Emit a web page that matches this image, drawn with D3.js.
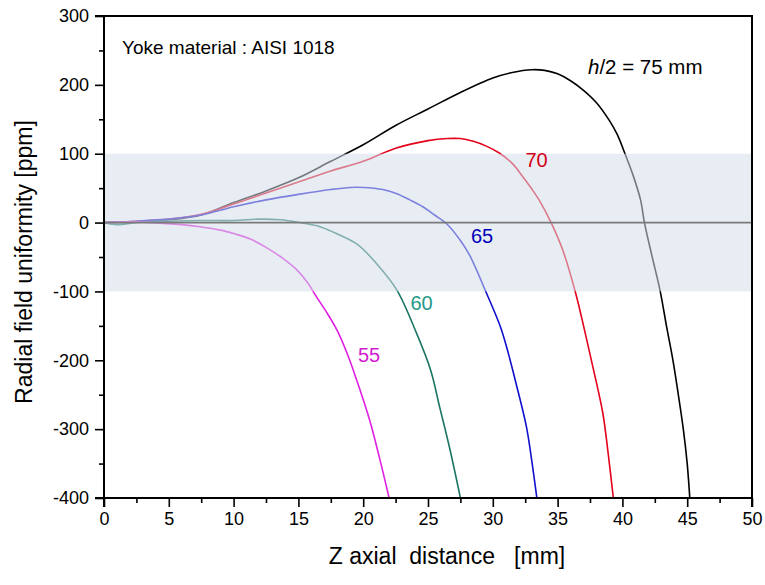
<!DOCTYPE html>
<html>
<head>
<meta charset="utf-8">
<script src="https://cdn.jsdelivr.net/npm/d3@7"></script>
<style>
  html, body { margin: 0; padding: 0; background: #fff; }
  svg { display: block; font-family: "Liberation Sans", Arial, sans-serif; }
</style>
</head>
<body>
<svg id="chart" width="765" height="585"></svg>
<script>
// ---- data ----
const z75 = [0, 2.5, 5, 7.5, 10, 12.5, 15, 17.5, 20, 22.5, 25, 27.5, 30, 31.5, 33, 34, 35, 36, 37, 38, 39, 39.6, 40.2, 40.8, 41.4, 41.7, 42.3, 42.9, 43.4, 43.9, 44.3, 44.7, 45.0, 45.2];
const v75 = [0, 1, 4, 11, 29, 46, 65, 89, 113, 141, 165, 189, 210, 218, 222, 221, 216, 206, 192, 174, 148, 128, 100, 70, 33, 0, -50, -98, -150, -200, -248, -300, -350, -400];

const z70 = [0, 2.5, 5, 7.5, 10, 12.5, 15, 17.5, 20, 22.5, 25, 26.5, 27.5, 28.5, 29.5, 30.5, 31.5, 32.3, 33, 33.6, 34.5, 35.4, 36.4, 37.1, 37.8, 38.5, 38.9, 39.3];
const v70 = [0, 2, 5, 12, 27, 43, 59, 75, 89, 108, 119, 122, 122, 118, 111, 101, 86, 67, 49, 32, 0, -40, -103, -158, -216, -278, -335, -400];

const z65 = [0, 2.5, 5, 7.5, 10, 12.5, 15, 17.5, 19, 20, 21.5, 22.6, 23.6, 24.6, 25.5, 26.4, 27.5, 28.2, 29.5, 30.6, 31.2, 31.8, 32.6, 33.0, 33.4];
const v65 = [0, 2, 5, 11, 23, 33, 41, 48, 51, 51, 48, 42, 33, 23, 11, -1, -26, -47, -102, -152, -190, -234, -297, -345, -400];

const z60 = [0, 1, 2.5, 5, 7.5, 10, 12, 13.6, 15.1, 16.5, 17.7, 19.5, 21, 22.6, 24.1, 25.2, 25.9, 26.7, 27.5];
const v60 = [0, -3, 0, 2, 3, 3, 5, 4, 0, -5, -14, -31, -59, -98, -160, -214, -268, -330, -400];

const z55 = [0, 2.5, 4.3, 6, 7.4, 9, 10, 11.3, 12.5, 13.8, 14.9, 15.7, 16.4, 17.2, 18, 18.8, 19.5, 20.5, 21.3, 22];
const v55 = [0, 1, -1, -3, -6, -11, -16, -24, -36, -52, -69, -87, -108, -131, -157, -192, -229, -287, -345, -400];

const seriesNames = ["75", "70", "65", "60", "55"];
const xTicks = [0, 5, 10, 15, 20, 25, 30, 35, 40, 45, 50];
const yTicks = [-400, -300, -200, -100, 0, 100, 200, 300];
const bandRange = [-100, 100];

// ---- layout ----
const svg = d3.select("#chart");
const L = 104, R = 752, T = 16, B = 498;
const x = d3.scaleLinear().domain([0, 50]).range([L, R]);
const y = d3.scaleLinear().domain([-400, 300]).range([B, T]);

const series = [
  { name: seriesNames[0], z: z75, v: v75, color: "#000000" },
  { name: seriesNames[1], z: z70, v: v70, color: "#e3001b" },
  { name: seriesNames[2], z: z65, v: v65, color: "#1010cc" },
  { name: seriesNames[3], z: z60, v: v60, color: "#1b7565" },
  { name: seriesNames[4], z: z55, v: v55, color: "#e020e0" }
];

svg.append("clipPath").attr("id", "plotclip")
  .append("rect").attr("x", L).attr("y", T).attr("width", R - L).attr("height", B - T);

const line = d3.line().x(d => x(d[0])).y(d => y(d[1])).curve(d3.curveCatmullRom.alpha(0.5));
const g = svg.append("g").attr("clip-path", "url(#plotclip)");
series.forEach(s => {
  g.append("path")
    .datum(s.z.map((zz, i) => [zz, s.v[i]]))
    .attr("d", line)
    .attr("fill", "none")
    .attr("stroke", s.color)
    .attr("stroke-width", 1.6)
    .attr("stroke-linejoin", "round");
});

// translucent band over the lines
svg.append("rect")
  .attr("x", L).attr("width", R - L)
  .attr("y", y(bandRange[1])).attr("height", y(bandRange[0]) - y(bandRange[1]))
  .attr("fill", "rgb(213,222,235)").attr("fill-opacity", 0.55);

// zero line
svg.append("line")
  .attr("x1", L).attr("x2", R).attr("y1", y(0)).attr("y2", y(0))
  .attr("stroke", "#7a7a7a").attr("stroke-width", 1.8);

// ---- axes ----
const minorX = d3.range(2.5, 50, 5);
const minorY = d3.range(-350, 300, 100);
const fmt = d => String(d);

const xAxis = svg.append("g").attr("transform", `translate(0,${B})`)
  .call(d3.axisBottom(x).tickValues(xTicks).tickSize(9).tickPadding(5).tickFormat(fmt));
svg.append("g").attr("transform", `translate(0,${B})`)
  .call(d3.axisBottom(x).tickValues(minorX).tickSize(5).tickFormat(""))
  .call(g => g.select(".domain").remove());

const yAxis = svg.append("g").attr("transform", `translate(${L},0)`)
  .call(d3.axisLeft(y).tickValues(yTicks).tickSize(9).tickPadding(6).tickFormat(fmt));
svg.append("g").attr("transform", `translate(${L},0)`)
  .call(d3.axisLeft(y).tickValues(minorY).tickSize(5).tickFormat(""))
  .call(g => g.select(".domain").remove());

svg.selectAll(".tick line").attr("stroke", "#000").attr("stroke-width", 1.6);
svg.selectAll(".domain").attr("stroke", "#000").attr("stroke-width", 2);
svg.selectAll(".tick text").attr("font-size", 18).attr("fill", "#000")
  .attr("font-family", "'Liberation Sans', Arial, sans-serif");
yAxis.selectAll(".domain").attr("d", `M-9,${T}H0V${B}H-9`);
xAxis.selectAll(".domain").attr("d", `M${L},9V0H${R}V9`);

// top and right frame
svg.append("line").attr("x1", L - 9).attr("x2", R + 1).attr("y1", T).attr("y2", T)
  .attr("stroke", "#000").attr("stroke-width", 2);
svg.append("line").attr("x1", R).attr("x2", R).attr("y1", T).attr("y2", B)
  .attr("stroke", "#000").attr("stroke-width", 2);

// axis titles
svg.append("text").attr("x", 447).attr("y", 564).attr("text-anchor", "middle")
  .attr("font-size", 23).attr("fill", "#000").style("white-space", "pre")
  .text("Z axial  distance   [mm]");
svg.append("text").attr("transform", "translate(32,262) rotate(-90)")
  .attr("text-anchor", "middle").attr("font-size", 23).attr("fill", "#000")
  .text("Radial field uniformity [ppm]");

// annotations
svg.append("text").attr("x", 122).attr("y", 54).attr("font-size", 19).attr("fill", "#000")
  .text("Yoke material : AISI 1018");
const ht = svg.append("text").attr("x", 588).attr("y", 74).attr("font-size", 20.5).attr("fill", "#000");
ht.append("tspan").attr("font-style", "italic").text("h");
ht.append("tspan").text("/2 = " + seriesNames[0] + " mm");

const labelPos = [
  { name: seriesNames[1], cx: 536.5, by: 167, color: "#d4001a" },
  { name: seriesNames[2], cx: 482, by: 243, color: "#0000b8" },
  { name: seriesNames[3], cx: 421.5, by: 310, color: "#23998a" },
  { name: seriesNames[4], cx: 369, by: 362, color: "#d21cd2" }
];
labelPos.forEach(l => {
  svg.append("text").attr("x", l.cx).attr("y", l.by).attr("text-anchor", "middle")
    .attr("font-size", 20).attr("fill", l.color).text(l.name);
});
</script>
</body>
</html>
